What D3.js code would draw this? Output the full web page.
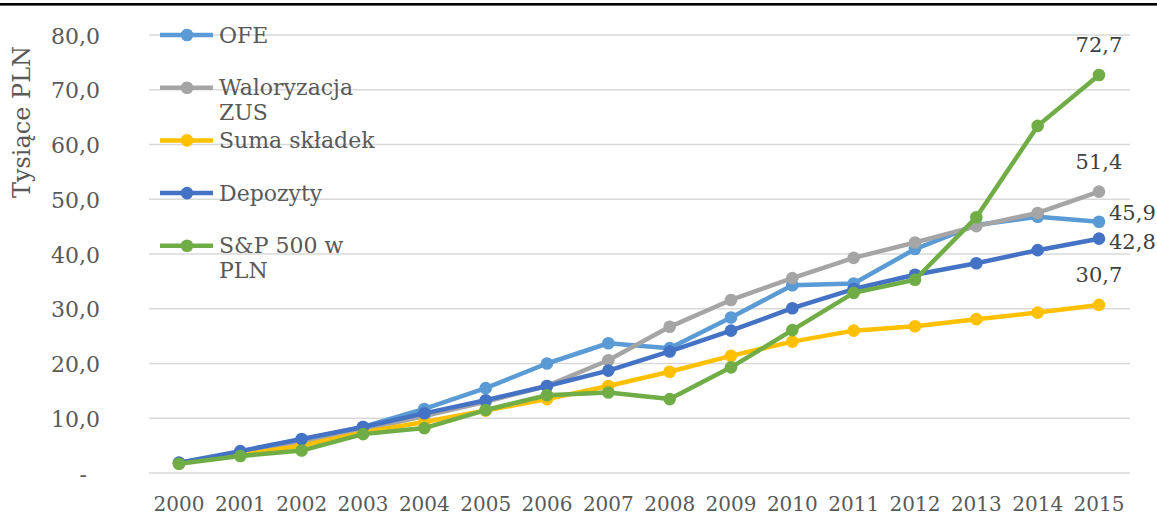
<!DOCTYPE html>
<html><head><meta charset="utf-8">
<script src="https://cdn.jsdelivr.net/npm/d3@7"></script>
<style>html,body{margin:0;padding:0;background:#fff;}svg{display:block;}</style>
</head><body>
<svg id="c" width="1157" height="515"></svg>
<script>
const years = ["2000","2001","2002","2003","2004","2005","2006","2007","2008","2009","2010","2011","2012","2013","2014","2015"];
const seriesNames = ["OFE","Waloryzacja ZUS","Suma składek","Depozyty","S&P 500 w PLN"];
const ofe      = [1.8,3.8,6.0,8.4,11.7,15.5,20.0,23.7,22.8,28.4,34.3,34.6,40.9,45.3,46.8,45.9];
const zus      = [1.8,3.7,5.6,7.9,10.4,13.0,15.9,20.6,26.7,31.6,35.6,39.3,42.1,45.1,47.5,51.4];
const skladki  = [1.8,3.3,5.0,7.4,9.3,11.4,13.5,15.9,18.5,21.4,24.0,26.0,26.8,28.1,29.3,30.7];
const depozyty = [1.9,4.0,6.2,8.4,10.9,13.3,15.9,18.7,22.2,26.0,30.1,33.6,36.2,38.3,40.7,42.8];
const sp500    = [1.7,3.1,4.1,7.1,8.2,11.5,14.2,14.7,13.5,19.3,26.1,32.9,35.3,46.7,63.4,72.7];
const yTicks = [0,10,20,30,40,50,60,70,80];
const colors = ["#5B9BD5","#A5A5A5","#FFC000","#4472C4","#70AD47"];
const allSeries = [ofe, zus, skladki, depozyty, sp500];
const endLabelPos = ["right","above","above","right","above"];
const endLabelDy = [-9, -30, -30, 3, -30];

const svg = d3.select("#c");
const font = "'DejaVu Serif', serif";
const txt = "#595959";
const fs = 22;

svg.append("rect").attr("x",0).attr("y",3).attr("width",1157).attr("height",2.6).attr("fill","#000");

const x = d3.scalePoint().domain(years).range([179, 1099]);
const y = d3.scaleLinear().domain([0, 80]).range([473, 35]);

// gridlines
svg.append("g").selectAll("line").data(yTicks).join("line")
  .attr("x1",149).attr("x2",1130)
  .attr("y1",d=>y(d)).attr("y2",d=>y(d))
  .attr("stroke","#D9D9D9").attr("stroke-width",1.5);

// y tick labels
svg.append("g").selectAll("text").data(yTicks).join("text")
  .attr("x", d => d===0 ? 87 : 100).attr("y", d=>y(d)+1)
  .attr("text-anchor","end").attr("dominant-baseline","central")
  .attr("font-family",font).attr("font-size",fs).attr("fill",txt)
  .text(d => d===0 ? "-" : d3.format(".1f")(d).replace(".",","));

// x labels
svg.append("g").selectAll("text").data(years).join("text")
  .attr("x", d=>x(d)).attr("y", 511)
  .attr("text-anchor","middle")
  .attr("font-family",font).attr("font-size",20).attr("fill",txt)
  .text(d=>d);

// axis title
svg.append("text")
  .attr("transform","translate(30,122) rotate(-90)")
  .attr("text-anchor","middle")
  .attr("font-family",font).attr("font-size",24).attr("fill",txt)
  .text("Tysiące PLN");

// series
const line = d3.line().x((d,i)=>x(years[i])).y(d=>y(d));
allSeries.forEach((s, k) => {
  const g = svg.append("g");
  g.append("path").datum(s).attr("d", line)
    .attr("fill","none").attr("stroke",colors[k]).attr("stroke-width",4.5)
    .attr("stroke-linejoin","round");
  g.selectAll("circle").data(s).join("circle")
    .attr("cx",(d,i)=>x(years[i])).attr("cy",d=>y(d)).attr("r",6.3)
    .attr("fill",colors[k]);
});

// end labels
allSeries.forEach((s, k) => {
  const v = s[s.length-1];
  const px = x(years[years.length-1]), py = y(v);
  const t = svg.append("text")
    .attr("font-family",font).attr("font-size",21).attr("fill","#404040")
    .attr("dominant-baseline","central")
    .text(d3.format(".1f")(v).replace(".",","));
  if (endLabelPos[k] === "right") t.attr("x", px+10).attr("y", py+endLabelDy[k]).attr("text-anchor","start");
  else t.attr("x", px).attr("y", py+endLabelDy[k]).attr("text-anchor","middle");
});

// legend
const legendLines = [["OFE"],["Waloryzacja","ZUS"],["Suma składek"],["Depozyty"],["S&P 500 w","PLN"]];
const lg = svg.append("g");
seriesNames.forEach((n, k) => {
  const ly = 35 + k*52.7;
  lg.append("line").attr("x1",160).attr("x2",213).attr("y1",ly).attr("y2",ly)
    .attr("stroke",colors[k]).attr("stroke-width",4.5);
  lg.append("circle").attr("cx",187).attr("cy",ly).attr("r",6.3).attr("fill",colors[k]);
  const t = lg.append("text").attr("font-family",font).attr("font-size",fs).attr("fill",txt);
  legendLines[k].forEach((l, j) => {
    t.append("tspan").attr("x",219).attr("y", ly + j*25).attr("dominant-baseline","central").text(l);
  });
});
</script>
</body></html>
